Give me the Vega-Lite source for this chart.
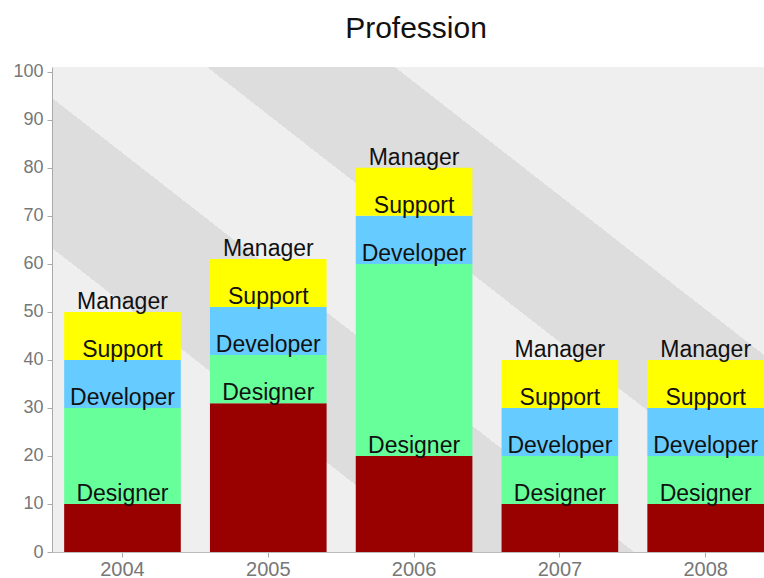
{
  "$schema": "https://vega.github.io/schema/vega-lite/v6.json",
  "width": 712,
  "height": 485,
  "autosize": {"type": "none"},
  "padding": {"left": 52, "top": 67, "right": 0, "bottom": 26},
  "background": "white",
  "title": {"text": "Profession", "font": "Liberation Sans", "fontSize": 30, "fontWeight": "normal", "color": "#111111", "anchor": "middle", "baseline": "alphabetic", "offset": 30, "dx": 8, "dy": 35},
  "view": {
    "stroke": null,
    "fill": {
      "gradient": "linear",
      "x1": 1, "y1": 0, "x2": -0.0628, "y2": 0.9281,
      "stops": [
        {"offset": 0, "color": "#efefef"},
        {"offset": 0.2768, "color": "#efefef"},
        {"offset": 0.2768, "color": "#dddddd"},
        {"offset": 0.4176, "color": "#dddddd"},
        {"offset": 0.4176, "color": "#efefef"},
        {"offset": 0.5636, "color": "#efefef"},
        {"offset": 0.5636, "color": "#dddddd"},
        {"offset": 0.7078, "color": "#dddddd"},
        {"offset": 0.7078, "color": "#efefef"},
        {"offset": 1, "color": "#efefef"}
      ]
    }
  },
  "data": {
    "values": [
      {"year": "2004", "role": "Designer", "k": 1, "value": 10},
      {"year": "2004", "role": "Developer", "k": 2, "value": 20},
      {"year": "2004", "role": "Support", "k": 3, "value": 10},
      {"year": "2004", "role": "Manager", "k": 4, "value": 10},
      {"year": "2005", "role": "Designer", "k": 1, "value": 31},
      {"year": "2005", "role": "Developer", "k": 2, "value": 10},
      {"year": "2005", "role": "Support", "k": 3, "value": 10},
      {"year": "2005", "role": "Manager", "k": 4, "value": 10},
      {"year": "2006", "role": "Designer", "k": 1, "value": 20},
      {"year": "2006", "role": "Developer", "k": 2, "value": 40},
      {"year": "2006", "role": "Support", "k": 3, "value": 10},
      {"year": "2006", "role": "Manager", "k": 4, "value": 10},
      {"year": "2007", "role": "Designer", "k": 1, "value": 10},
      {"year": "2007", "role": "Developer", "k": 2, "value": 10},
      {"year": "2007", "role": "Support", "k": 3, "value": 10},
      {"year": "2007", "role": "Manager", "k": 4, "value": 10},
      {"year": "2008", "role": "Designer", "k": 1, "value": 10},
      {"year": "2008", "role": "Developer", "k": 2, "value": 10},
      {"year": "2008", "role": "Support", "k": 3, "value": 10},
      {"year": "2008", "role": "Manager", "k": 4, "value": 10}
    ]
  },
  "encoding": {
    "x": {
      "field": "year", "type": "ordinal",
      "scale": {"paddingInner": 0.2, "paddingOuter": 0.0417, "align": 1},
      "axis": {"title": null, "labelAngle": 0, "grid": false, "domainColor": "#bbbbbb", "tickColor": "#aaaaaa", "tickSize": 5, "labelFont": "Liberation Sans", "labelFontSize": 20, "labelColor": "#777777", "labelPadding": 2}
    }
  },
  "layer": [
    {
      "mark": {"type": "bar"},
      "encoding": {
        "y": {
          "field": "value", "type": "quantitative", "stack": "zero",
          "scale": {"domain": [0, 101], "nice": false, "zero": true},
          "axis": {"title": null, "values": [0, 10, 20, 30, 40, 50, 60, 70, 80, 90, 100], "grid": false, "domainColor": "#aaaaaa", "tickColor": "#aaaaaa", "tickSize": 5, "labelFont": "Liberation Sans", "labelFontSize": 18, "labelColor": "#777777", "labelPadding": 4}
        },
        "color": {
          "field": "role", "type": "nominal",
          "scale": {"domain": ["Designer", "Developer", "Support", "Manager"], "range": ["#990000", "#66ff99", "#66ccff", "#ffff00"]},
          "legend": null
        },
        "order": {"field": "k", "type": "quantitative"}
      }
    },
    {
      "mark": {"type": "text", "font": "Liberation Sans", "fontSize": 23, "color": "#111111", "align": "center", "baseline": "alphabetic", "dy": -3},
      "encoding": {
        "y": {"field": "value", "type": "quantitative", "stack": "zero"},
        "detail": {"field": "role", "type": "nominal"},
        "order": {"field": "k", "type": "quantitative"},
        "text": {"field": "role", "type": "nominal"}
      }
    }
  ]
}
